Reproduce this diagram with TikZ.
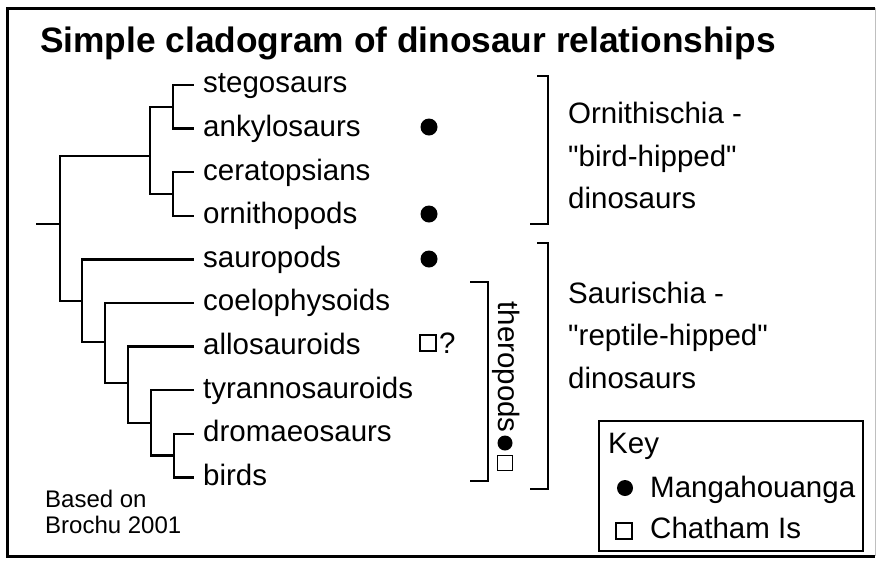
\documentclass[tikz,border=0pt]{standalone}
\usepackage{fontspec}
\setmainfont{Liberation Sans}[Ligatures=TeXOff]
\begin{document}
\fontsize{29.5}{34}\selectfont
\begin{tikzpicture}[x=1pt,y=-1pt,
  font=\fontsize{29.5}{34}\selectfont,
  tree/.style={line width=2.3pt, line cap=rect},
  brk/.style={line width=2.3pt},
  lbl/.style={anchor=mid west, inner sep=0pt},
  txt/.style={anchor=base west, inner sep=0pt},
  small/.style={anchor=base west, inner sep=0pt, font=\fontsize{24}{28}\selectfont},
  dotm/.style={circle, fill=black, inner sep=0pt, minimum size=17pt},
  sqm/.style={draw, line width=1.6pt, inner sep=0pt, minimum size=16pt},
]
\useasboundingbox (0,0) rectangle (878,566);
% outer frame
\draw[line width=3pt] (875,8) -- (7,8) -- (7,556) -- (875,556);
\draw[line width=1pt, black!25] (875,8) -- (875,556);
% title
\node[anchor=base west, inner sep=0pt, font=\bfseries\fontsize{35.3}{40}\selectfont] (title) at (40,52) {Simple cladogram of dinosaur relationships};
% leaves
\node[lbl] (stego)  at (203,85)    {stegosaurs};
\node[lbl] (ankylo) at (203,128.6) {ankylosaurs};
\node[lbl] (cerat)  at (203,172.2) {ceratopsians};
\node[lbl] (ornith) at (203,215.8) {ornithopods};
\node[lbl] (sauro)  at (203,259.4) {sauropods};
\node[lbl] (coelo)  at (203,303)   {coelophysoids};
\node[lbl] (allo)   at (203,346.6) {allosauroids};
\node[lbl] (tyran)  at (203,390.2) {tyrannosauroids};
\node[lbl] (drom)   at (203,433.8) {dromaeosaurs};
\node[lbl] (birds)  at (203,477.4) {birds};
% internal nodes
\coordinate (A) at (173,106.8);
\coordinate (B) at (173,194);
\coordinate (C) at (150,156);
\coordinate (R) at (60,224);
\coordinate (stub) at (37,224);
\coordinate (D) at (82,301);
\coordinate (E) at (105,342);
\coordinate (F) at (128,383);
\coordinate (G) at (151,423);
\coordinate (H) at (174,455.6);
% tree
\draw[tree] ([xshift=-10pt]stego.mid west) -| (A) |- ([xshift=-10pt]ankylo.mid west);
\draw[tree] ([xshift=-10pt]cerat.mid west) -| (B) |- ([xshift=-10pt]ornith.mid west);
\draw[tree] (A) -- (A -| C) -- (B -| C) -- (B);
\draw[tree] (C) -- (C -| R) -- (D -| R) -- (D);
\draw[tree] (stub) -- (R);
\draw[tree] ([xshift=-10pt]sauro.mid west) -| (E -| D) -- (E);
\draw[tree] ([xshift=-10pt]coelo.mid west) -| (F -| E) -- (F);
\draw[tree] ([xshift=-10pt]allo.mid west) -| (G -| F) -- (G);
\draw[tree] ([xshift=-10pt]tyran.mid west) -| (H -| G) -- (H);
\draw[tree] ([xshift=-10pt]drom.mid west) -| (H) |- ([xshift=-10pt]birds.mid west);
% markers
\node[dotm] (m1) at (429,127) {};
\node[dotm] (m2) at (429,214) {};
\node[dotm] (m3) at (429,259) {};
\node[sqm] (m4) at (428,343) {};
\node[txt] (q) at (439,353) {?};
% brackets
\draw[brk] (537,76) -- (548,76) -- (548,224) -- (530,224);
\draw[brk] (537,243) -- (548,243) -- (548,489) -- (530,489);
\draw[brk] (470,282) -- (488,282) -- (488,481) -- (470,481);
% theropods
\node[rotate=-90, anchor=base, inner sep=0pt] (thero) at (498,367) {theropods};
\node[dotm, minimum size=15pt] (m5) at (505,443) {};
\node[sqm, minimum size=15pt] (m6) at (505,463) {};
% group labels
\node[txt] (orn1) at (568,123) {Ornithischia -};
\node[txt] (orn2) at (568,166) {"bird-hipped"};
\node[txt] (orn3) at (568,208) {dinosaurs};
\node[txt] (sau1) at (568,303) {Saurischia -};
\node[txt] (sau2) at (568,345.5) {"reptile-hipped"};
\node[txt] (sau3) at (568,388) {dinosaurs};
% key
\node[draw, line width=1.5pt, minimum width=264pt, minimum height=130pt, inner sep=0pt] (key) at (731,486) {};
\node[txt] (keyt) at (608,453) {Key};
\node[dotm, minimum size=16pt] (k1) at (625,488) {};
\node[txt] (k1t) at (650,497) {Mangahouanga};
\node[sqm, minimum size=16pt] (k2) at (624,531) {};
\node[txt] (k2t) at (650,538) {Chatham Is};
% source
\node[small] (src1) at (45,507) {Based on};
\node[small] (src2) at (45,533) {Brochu 2001};
\end{tikzpicture}
\end{document}
